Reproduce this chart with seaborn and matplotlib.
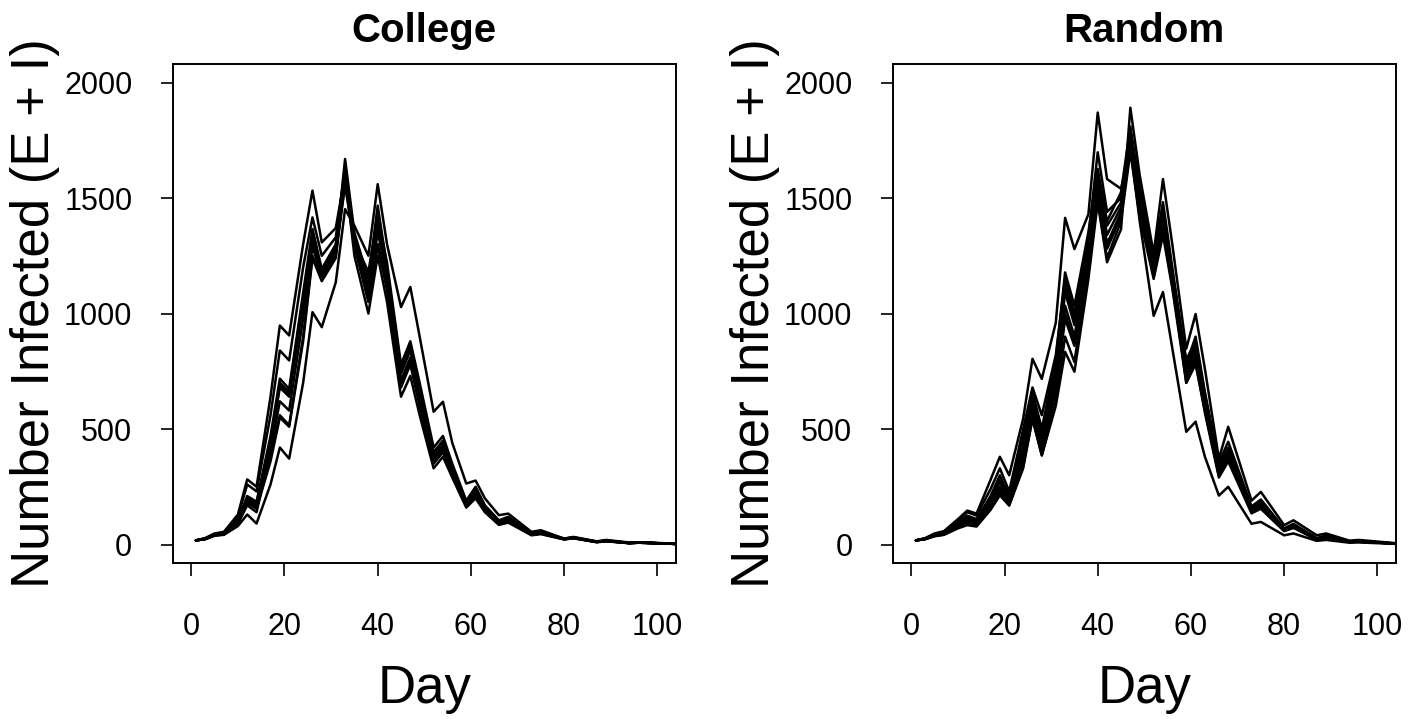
import numpy as np
import pandas as pd
import matplotlib
matplotlib.use('Agg')
import matplotlib.pyplot as plt
import seaborn as sns

# 顶点日期（每周锯齿：高峰 p，前后各两天）
days = [1, 3, 5, 7, 10, 12, 14, 17, 19, 21, 24, 26, 28, 31, 33, 35, 38, 40, 42, 45,
        47, 49, 52, 54, 56, 59, 61, 63, 66, 68, 73, 75, 80, 82, 87, 89, 94, 96, 105]

# College: 10 次模拟
college_runs = [
    [18, 28, 48, 55, 130, 282, 250, 640, 948, 905, 1300, 1532, 1308, 1370, 1600, 1250, 1000, 1250, 1050, 640,
     730, 560, 330, 380, 290, 160, 200, 140, 85, 95, 40, 45, 22, 27, 10, 14, 6, 8, 2],
    [18, 27, 46, 52, 120, 260, 230, 560, 840, 797, 1200, 1416, 1250, 1330, 1620, 1300, 1050, 1300, 1100, 680,
     780, 600, 350, 400, 300, 170, 215, 150, 90, 100, 42, 48, 23, 28, 11, 15, 6, 8, 2],
    [18, 26, 44, 48, 105, 210, 185, 470, 718, 674, 1090, 1366, 1193, 1300, 1640, 1330, 1120, 1400, 1180, 740,
     840, 650, 380, 430, 330, 180, 235, 160, 95, 110, 45, 52, 24, 30, 12, 16, 7, 9, 2],
    [18, 25, 43, 47, 100, 200, 178, 450, 700, 660, 1070, 1340, 1180, 1280, 1669, 1350, 1150, 1467, 1200, 760,
     860, 680, 400, 450, 340, 185, 240, 165, 100, 115, 47, 54, 25, 31, 12, 17, 7, 9, 2],
    [18, 25, 42, 46, 98, 190, 170, 430, 690, 650, 1040, 1320, 1160, 1265, 1590, 1320, 1080, 1352, 1160, 710,
     810, 630, 375, 425, 320, 175, 230, 158, 96, 108, 45, 52, 24, 30, 12, 16, 7, 9, 2],
    [18, 24, 41, 44, 92, 186, 160, 380, 560, 516, 900, 1251, 1150, 1250, 1560, 1290, 1060, 1300, 1120, 700,
     800, 620, 370, 420, 315, 170, 225, 155, 92, 105, 44, 50, 24, 29, 11, 16, 6, 8, 2],
    [18, 24, 40, 44, 90, 180, 155, 360, 550, 510, 880, 1240, 1140, 1240, 1600, 1330, 1100, 1380, 1170, 745,
     850, 660, 395, 445, 335, 180, 240, 165, 98, 112, 46, 53, 25, 30, 12, 17, 7, 9, 2],
    [18, 23, 38, 42, 80, 130, 91, 260, 420, 372, 700, 1006, 941, 1135, 1452, 1380, 1250, 1560, 1300, 1028,
     1115, 900, 575, 618, 440, 264, 277, 200, 127, 134, 55, 62, 26, 33, 14, 20, 9, 10, 3],
    [18, 24, 40, 45, 95, 200, 175, 440, 680, 640, 1060, 1335, 1170, 1290, 1610, 1300, 1090, 1290, 1130, 690,
     790, 610, 360, 410, 310, 165, 215, 150, 88, 100, 42, 48, 23, 28, 11, 15, 6, 8, 2],
    [18, 24, 41, 45, 90, 170, 140, 400, 620, 580, 980, 1290, 1160, 1270, 1560, 1310, 1180, 1420, 1220, 780,
     880, 700, 420, 470, 350, 190, 250, 170, 105, 120, 48, 56, 25, 31, 12, 17, 7, 9, 2],
]

# Random: 10 次模拟
random_runs = [
    [18, 28, 48, 58, 110, 147, 134, 280, 380, 300, 545, 804, 717, 960, 1414, 1279, 1430, 1870, 1582, 1540,
     1720, 1400, 990, 1093, 850, 488, 532, 380, 212, 250, 90, 98, 40, 48, 16, 20, 8, 9, 2],
    [18, 27, 45, 55, 100, 140, 125, 240, 330, 230, 500, 680, 560, 820, 1150, 1000, 1330, 1698, 1440, 1500,
     1780, 1500, 1200, 1400, 1150, 700, 780, 580, 300, 370, 140, 160, 60, 75, 22, 32, 11, 13, 3],
    [18, 26, 42, 50, 90, 125, 110, 210, 300, 210, 460, 661, 501, 800, 1178, 1034, 1353, 1626, 1400, 1525,
     1810, 1550, 1250, 1482, 1200, 780, 860, 640, 330, 400, 150, 175, 65, 80, 24, 34, 12, 14, 3],
    [18, 25, 40, 48, 85, 115, 100, 190, 270, 195, 400, 620, 460, 720, 1092, 950, 1300, 1580, 1340, 1460,
     1760, 1480, 1200, 1400, 1150, 760, 850, 620, 320, 390, 150, 170, 64, 78, 24, 34, 12, 14, 3],
    [18, 25, 40, 46, 82, 110, 98, 180, 250, 185, 380, 590, 430, 690, 1034, 900, 1260, 1540, 1300, 1430,
     1740, 1460, 1180, 1380, 1130, 740, 830, 600, 310, 380, 145, 165, 62, 76, 23, 33, 11, 13, 3],
    [18, 24, 38, 45, 78, 100, 90, 170, 230, 175, 360, 560, 410, 660, 977, 860, 1230, 1520, 1280, 1420,
     1720, 1440, 1160, 1360, 1120, 720, 810, 590, 300, 370, 140, 160, 60, 74, 23, 32, 11, 13, 3],
    [18, 24, 37, 43, 75, 95, 85, 160, 220, 170, 340, 545, 386, 620, 900, 790, 1206, 1490, 1240, 1400,
     1700, 1420, 1150, 1340, 1110, 700, 790, 570, 290, 360, 135, 155, 58, 72, 22, 31, 11, 13, 3],
    [18, 23, 36, 42, 70, 84, 78, 150, 213, 169, 330, 545, 386, 600, 834, 748, 1150, 1481, 1222, 1365,
     1891, 1600, 1260, 1582, 1300, 848, 998, 760, 372, 510, 190, 228, 84, 105, 40, 48, 17, 20, 4],
    [18, 25, 41, 49, 88, 120, 105, 200, 280, 200, 420, 640, 480, 760, 1120, 980, 1320, 1600, 1380, 1480,
     1780, 1520, 1240, 1450, 1180, 800, 880, 650, 340, 420, 160, 185, 68, 85, 26, 36, 12, 15, 3],
    [18, 24, 39, 46, 80, 105, 92, 175, 240, 180, 370, 575, 420, 680, 1000, 870, 1250, 1550, 1300, 1440,
     1760, 1500, 1220, 1420, 1170, 780, 900, 660, 355, 445, 165, 195, 70, 90, 28, 40, 13, 16, 3],
]

panel_titles = ['College', 'Random']
x_ticks = [0, 20, 40, 60, 80, 100]
y_ticks = [0, 500, 1000, 1500, 2000]


def to_long(runs):
    rows = []
    for r, vals in enumerate(runs):
        for d, v in zip(days, vals):
            rows.append({'day': d, 'value': v, 'run': r})
    return pd.DataFrame(rows)


sns.set_theme(style='ticks')
plt.rcParams['font.family'] = ['Liberation Sans', 'DejaVu Sans']
plt.rcParams['text.color'] = 'black'
plt.rcParams['axes.labelcolor'] = 'black'
plt.rcParams['xtick.color'] = 'black'
plt.rcParams['ytick.color'] = 'black'

fig = plt.figure(figsize=(14.21, 7.21), dpi=100)
ax_pos = [[0.1215, 0.2191, 0.3542, 0.6921], [0.6282, 0.2191, 0.3542, 0.6921]]

for pos, runs, title in zip(ax_pos, [college_runs, random_runs], panel_titles):
    ax = fig.add_axes(pos)
    df = to_long(runs)
    sns.lineplot(data=df, x='day', y='value', units='run', estimator=None,
                 color='black', lw=1.8, ax=ax, legend=False)
    ax.set_xlim(-4, 104)
    ax.set_ylim(-80, 2080)
    ax.set_xticks(x_ticks)
    ax.set_yticks(y_ticks)
    ax.tick_params(axis='both', direction='out', length=9, width=1.2,
                   labelsize=22, color='black', labelcolor='black')
    ax.tick_params(axis='y', pad=20)
    ax.tick_params(axis='x', pad=26)
    for s in ax.spines.values():
        s.set_visible(True)
        s.set_color('black')
        s.set_linewidth(1.4)
    ax.set_title(title, fontsize=29, fontweight='bold', pad=16, color='black')
    ax.set_xlabel('Day', fontsize=38, labelpad=16, color='black')
    ax.set_ylabel('Number Infected (E + I)', fontsize=38, labelpad=3, color='black')

fig.savefig('out.png', dpi=100)
